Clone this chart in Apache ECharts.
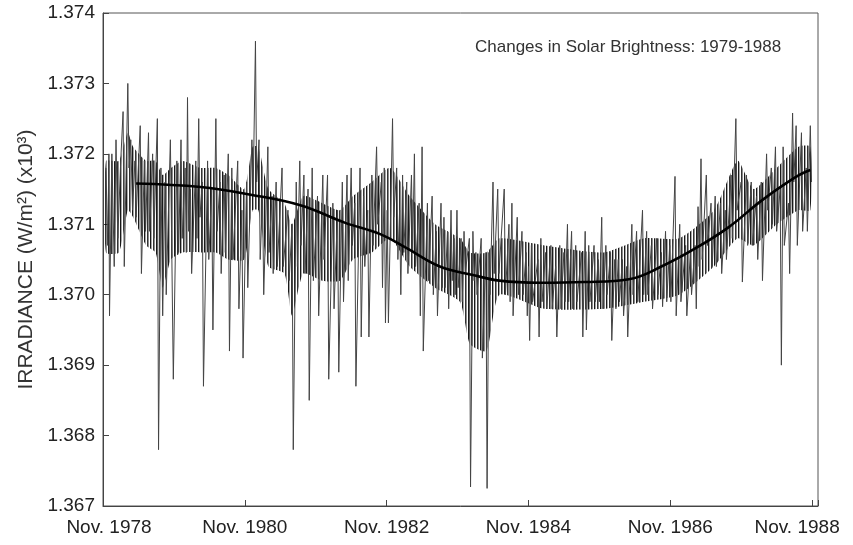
<!DOCTYPE html>
<html>
<head>
<meta charset="utf-8">
<script src="https://cdn.jsdelivr.net/npm/echarts@6/dist/echarts.min.js"></script>
<style>html,body{margin:0;padding:0;background:#fff}#c{width:853px;height:545px}</style>
</head>
<body>
<div id="c"></div>
<script>
// x values are months after Nov. 1978
var tickLabels = ['Nov. 1978', 'Nov. 1980', 'Nov. 1982', 'Nov. 1984', 'Nov. 1986', 'Nov. 1988'];
var yTicks = [1.367, 1.368, 1.369, 1.370, 1.371, 1.372, 1.373, 1.374];

// individual readings (alternating highs and lows of the daily trace)
var months = [
0.5,0.8,1.0,1.1,1.5,1.9,2.2,2.5,3.0,3.4,3.6,4.2,4.4,4.7,5.0,5.4,5.6,6.3,6.5,7.0,7.2,7.7,7.9,8.4,8.6,9.2,9.4,9.8,10.1,10.5,10.7,11.4,11.6,11.9,12.5,12.8,13.2,13.4,13.9,14.1,14.3,14.5,14.8,15.0,15.7,15.9,16.2,16.4,16.8,17.0,17.7,17.9,18.4,18.6,19.1,19.3,19.8,20.0,20.5,20.7,21.2,21.4,21.8,22.0,22.8,23.0,23.5,23.7,24.3,24.5,25.2,25.4,25.8,26.0,26.4,26.6,27.0,27.2,27.9,28.1,28.6,28.8,29.3,29.5,30.3,30.5,31.3,31.5,32.0,32.2,32.7,32.9,33.3,33.5,34.0,34.2,34.7,34.9,35.4,35.6,36.3,36.5,37.2,37.4,38.0,38.2,38.9,39.1,39.7,39.9,40.5,40.7,
41.3,41.5,42.0,42.2,42.6,42.8,43.5,43.7,44.1,44.3,44.8,45.0,45.5,45.7,46.3,46.5,47.1,47.3,47.6,47.8,48.1,48.3,49.0,49.2,49.7,49.9,50.2,50.4,50.7,50.9,51.4,51.6,52.2,52.4,52.7,52.9,53.5,53.7,54.0,54.2,54.9,55.1,55.7,55.9,56.4,56.6,57.2,57.4,57.7,57.9,58.3,58.5,58.9,59.1,59.4,59.6,59.9,60.1,60.6,60.8,61.1,61.3,62.0,62.2,62.6,62.8,63.1,63.3,64.0,64.2,64.8,65.0,65.3,65.5,66.0,66.2,66.8,67.0,67.9,68.1,68.7,68.9,69.2,69.4,70.1,70.3,70.9,71.1,71.6,71.8,72.0,72.2,72.5,72.7,73.6,73.8,74.1,74.3,74.9,75.1,75.8,76.0,76.6,76.8,77.3,77.5,78.0,78.2,78.6,78.8,79.3,79.5,80.0,80.2,81.0,81.2,
81.6,81.8,82.2,82.4,83.1,83.3,83.8,84.0,84.4,84.6,85.1,85.3,85.9,86.1,86.6,86.8,87.2,87.4,87.9,88.1,88.6,88.8,89.5,89.7,90.3,90.5,91.3,91.5,92.0,92.2,92.8,93.0,93.7,93.9,94.5,94.7,95.2,95.4,95.9,96.1,96.8,97.0,97.6,97.8,98.6,98.8,99.4,99.6,100.2,100.4,100.7,100.9,101.2,101.4,102.1,102.3,102.9,103.1,103.6,103.8,104.5,104.7,105.3,105.5,106.3,106.5,107.1,107.3,108.0,108.2,108.9,109.1,109.7,109.9,110.6,110.8,111.4,111.6,112.3,112.5,113.1,113.3,113.8,114.0,114.6,114.8,115.1,115.3,116.0,116.2,116.7,116.9,117.3,117.5,118.2,118.4,119.0,119.2,119.7,119.9
];
var irradiance = [
1.3718,1.3707,1.3720,1.3697,1.3720,1.3704,1.3722,1.3708,1.3719,1.3726,1.3704,1.3730,1.3718,1.3722,1.3712,1.3719,1.3711,1.3724,1.3703,1.3719,1.3709,1.3723,1.3709,1.3720,1.3708,1.3725,1.3678,1.3718,1.3697,1.3716,1.3700,1.3722,1.3709,1.3688,1.3719,1.3706,1.3722,1.3708,1.3718,1.3706,1.3728,1.3709,1.3715,1.3703,1.3719,1.3708,1.3725,1.3711,1.3716,1.3687,1.3719,1.3705,1.3715,1.3695,1.3725,1.3709,1.3716,1.3703,1.3717,1.3706,1.3720,1.3692,1.3718,1.3705,1.3719,1.3698,1.3712,1.3691,1.3716,1.3701,1.3722,1.3714,1.3736,1.3716,1.3722,1.3705,1.3714,1.3700,1.3721,1.3706,1.3714,1.3703,1.3716,1.3704,1.3718,1.3704,1.3712,1.3702,1.3710,1.3678,1.3716,1.3704,1.3719,1.3707,1.3717,1.3703,1.3715,1.3685,1.3718,1.3702,1.3714,1.3697,1.3717,1.3705,1.3717,1.3688,1.3713,1.3698,1.3712,1.3689,1.3716,1.3699,
1.3717,1.3702,1.3718,1.3707,1.3713,1.3687,1.3718,1.3694,1.3714,1.3704,1.3712,1.3694,1.3717,1.3707,1.3721,1.3710,1.3716,1.3701,1.3718,1.3696,1.3712,1.3696,1.3725,1.3711,1.3718,1.3705,1.3712,1.3700,1.3717,1.3706,1.3716,1.3703,1.3717,1.3706,1.3720,1.3704,1.3713,1.3697,1.3721,1.3692,1.3713,1.3702,1.3714,1.3700,1.3709,1.3697,1.3713,1.3701,1.3711,1.3701,1.3709,1.3698,1.3712,1.3702,1.3708,1.3700,1.3712,1.3701,1.3708,1.3699,1.3709,1.3703,1.3708,1.36727,1.3709,1.3702,1.3706,1.3700,1.3708,1.3691,1.3706,1.36725,1.3706,1.3700,1.3716,1.3703,1.3715,1.3703,1.3715,1.3700,1.3710,1.3699,1.3713,1.3697,1.3711,1.3700,1.3709,1.3700,1.3706,1.3697,1.3704,1.36935,1.3707,1.3699,1.3705,1.3694,1.3708,1.3699,1.3706,1.3698,1.3707,1.3698,1.3704,1.3694,1.3707,1.3698,1.3706,1.3699,1.3710,1.3699,1.3709,1.3698,1.3707,1.3699,1.3706,1.3694,
1.3709,1.3695,1.3707,1.3699,1.3707,1.3699,1.3705,1.3699,1.3711,1.3698,1.3707,1.3700,1.3706,1.36935,1.3705,1.3698,1.3705,1.3699,1.3705,1.3697,1.3704,1.3694,1.3710,1.3700,1.3709,1.3699,1.3712,1.3700,1.3709,1.3700,1.3707,1.3698,1.3708,1.3700,1.3706,1.36983,1.3709,1.3699,1.3707,1.3699,1.37168,1.3697,1.3710,1.3699,1.3707,1.3697,1.3706,1.3700,1.3707,1.3698,1.37125,1.3704,1.37193,1.3705,1.3717,1.3707,1.3713,1.3704,1.3714,1.3704,1.3713,1.3703,1.3712,1.3705,1.3717,1.3708,1.3725,1.3712,1.3716,1.37018,1.3717,1.3707,1.3716,1.3707,1.3714,1.3705,1.3716,1.3702,1.3720,1.3712,1.3718,1.3710,1.3721,1.3709,1.3715,1.3690,1.3721,1.3707,1.3713,1.3703,1.37258,1.3716,1.3724,1.3707,1.3723,1.3709,1.3718,1.3709,1.3724,1.3716
];

// dense dark core of the trace: upper and lower edge
var bandMonths = [0.5, 2.7, 4.2, 5.1, 7.3, 8.9, 10.1, 11.5, 13.5, 16.5, 19.1, 21.2, 23.9, 25.3, 26.3, 28.0, 30.7, 32.0, 33.9, 37.1, 40.1, 42.3, 45.5, 48.6, 51.9, 56.2, 60.4, 62.1, 64.9, 67.1, 74.7, 84.8, 91.6, 97.5, 103.4, 107.4, 110.1, 114.0, 117.7, 119.7];
var bandTop = [1.3719, 1.3719, 1.3723, 1.3721, 1.3719, 1.3719, 1.3717, 1.3718, 1.3719, 1.3718, 1.3718, 1.3717, 1.3715, 1.3721, 1.3721, 1.3715, 1.3713, 1.3710, 1.3714, 1.3713, 1.3712, 1.3714, 1.3716, 1.3718, 1.3714, 1.3710, 1.3708, 1.3706, 1.3706, 1.3708, 1.3707, 1.3706, 1.3708, 1.3708, 1.3712, 1.3719, 1.3715, 1.3718, 1.3721, 1.3721];
var bandBottom = [1.3706, 1.3706, 1.3712, 1.3711, 1.3707, 1.3706, 1.3701, 1.3705, 1.3706, 1.3706, 1.3706, 1.3705, 1.3705, 1.3712, 1.3712, 1.3704, 1.3703, 1.3697, 1.3703, 1.3702, 1.3702, 1.3705, 1.3706, 1.3708, 1.3704, 1.3701, 1.3699, 1.3693, 1.3692, 1.3700, 1.3698, 1.3698, 1.3699, 1.3700, 1.3704, 1.3708, 1.3707, 1.3710, 1.3712, 1.3712];

var trendMonths = [5.6, 16.5, 25.0, 33.4, 41.0, 46.9, 51.4, 57.0, 62.6, 67.1, 73.9, 81.4, 89.0, 94.5, 100.3, 105.9, 111.5, 117.2, 119.7];
var trendValues = [1.37158, 1.37153, 1.37142, 1.37127, 1.37102, 1.37086, 1.37066, 1.37040, 1.37028, 1.37020, 1.37017, 1.37018, 1.37022, 1.37040, 1.37066, 1.37096, 1.37134, 1.37167, 1.37177];

var noiseData = months.map(function (m, i) { return [m, irradiance[i]]; });
var trendData = trendMonths.map(function (m, i) { return [m, trendValues[i]]; });

// vertical hatch pattern imitating the dense daily strokes
var hatch = document.createElement('canvas');
hatch.width = 6; hatch.height = 5;
(function () {
  var c = hatch.getContext('2d');
  c.fillStyle = 'rgba(0,0,0,0.9)'; c.fillRect(0, 0, 1, 5);
  c.fillStyle = 'rgba(0,0,0,0.35)'; c.fillRect(1, 0, 1, 5);
  c.fillStyle = 'rgba(0,0,0,0.8)'; c.fillRect(3, 0, 1, 5);
  c.fillStyle = 'rgba(0,0,0,0.45)'; c.fillRect(4, 0, 1, 5);
})();

function renderBand(params, api) {
  var pts = [];
  for (var i = 0; i < bandMonths.length; i++) pts.push(api.coord([bandMonths[i], bandTop[i]]));
  for (var j = bandMonths.length - 1; j >= 0; j--) pts.push(api.coord([bandMonths[j], bandBottom[j]]));
  return {type: 'polygon', shape: {points: pts, smooth: 0.2},
    style: {fill: {image: hatch, repeat: 'repeat'}}};
}

var FONT = 'Liberation Sans, Arial, sans-serif';
var chart = echarts.init(document.getElementById('c'), null, {renderer: 'canvas'});
chart.setOption({
  animation: false,
  backgroundColor: '#fff',
  title: {
    text: 'Changes in Solar Brightness: 1979-1988',
    left: 470, top: 34,
    textStyle: {fontFamily: FONT, fontSize: 17, fontWeight: 'normal', color: '#333'}
  },
  grid: {left: 103, right: 35, top: 13, bottom: 39, show: true, borderColor: '#555', borderWidth: 1},
  xAxis: {
    type: 'value', min: 0, max: 121, interval: 24,
    axisLine: {lineStyle: {color: '#444', width: 1}},
    axisTick: {inside: true, length: 6, lineStyle: {color: '#444'}},
    splitLine: {show: false},
    axisLabel: {
      margin: 12, color: '#222', fontFamily: FONT, fontSize: 19,
      formatter: function (v) {
        if (v % 24 !== 0) return '';
        var i = v / 24;
        if (i === 0) return '{a|' + tickLabels[0] + '}';
        if (i === 5) return '{b|' + tickLabels[5] + '}';
        return tickLabels[i];
      },
      rich: {
        a: {fontFamily: FONT, fontSize: 19, color: '#222', padding: [0, 0, 0, 12]},
        b: {fontFamily: FONT, fontSize: 19, color: '#222', padding: [0, 30, 0, 0]}
      }
    }
  },
  yAxis: {
    type: 'value', min: yTicks[0], max: yTicks[yTicks.length - 1], interval: 0.001,
    name: 'IRRADIANCE (W/m²) (x10³)', nameLocation: 'middle', nameGap: 64,
    nameTextStyle: {fontFamily: FONT, fontSize: 21, color: '#333'},
    axisLine: {show: true, lineStyle: {color: '#444', width: 1}},
    axisTick: {inside: true, length: 6, lineStyle: {color: '#444'}},
    splitLine: {show: false},
    axisLabel: {margin: 8, color: '#222', fontFamily: FONT, fontSize: 19,
      formatter: function (v) { return v.toFixed(3); }}
  },
  series: [
    {type: 'custom', data: [[bandMonths[0], bandTop[0]]], renderItem: renderBand, z: 1, silent: true},
    {type: 'line', data: noiseData, showSymbol: false, symbol: 'none', sampling: null,
      lineStyle: {color: '#444', width: 1}, z: 2},
    {type: 'line', data: trendData, showSymbol: false, symbol: 'none', smooth: 0.4,
      lineStyle: {color: '#000', width: 2.6}, z: 3}
  ]
});
</script>
</body>
</html>
